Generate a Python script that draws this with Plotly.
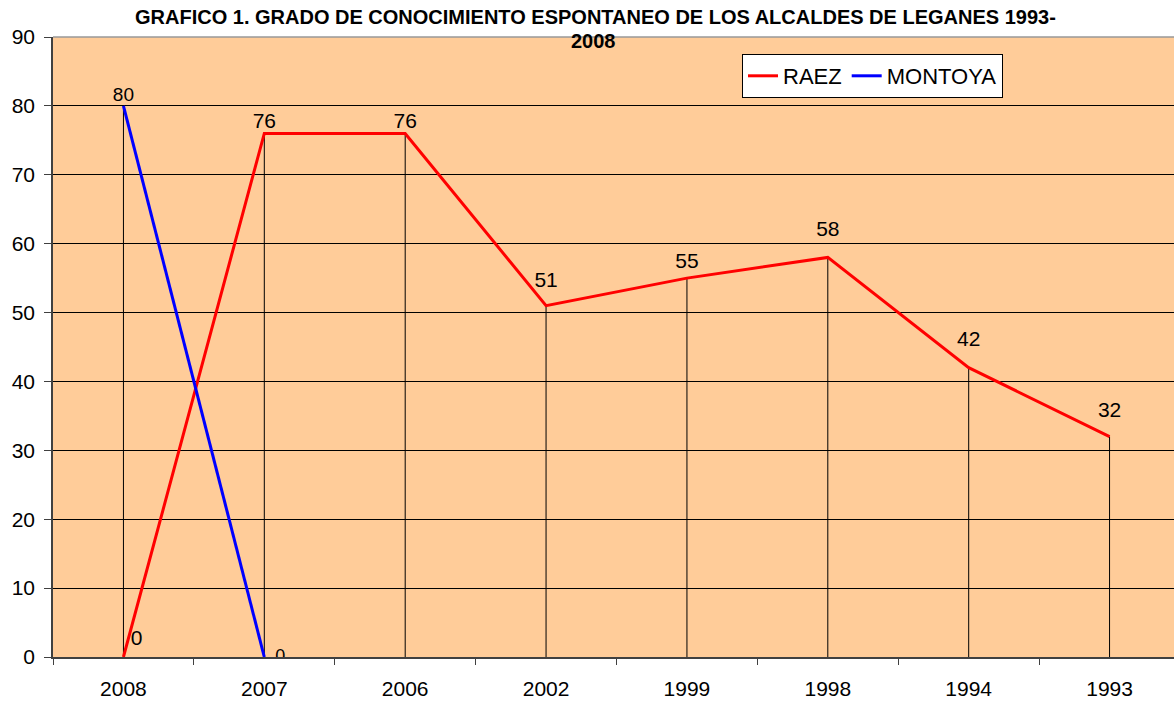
import plotly.graph_objects as go

years = ["2008", "2007", "2006", "2002", "1999", "1998", "1994", "1993"]
raez = [0, 76, 76, 51, 55, 58, 42, 32]
montoya_years = ["2008", "2007"]
montoya = [80, 0]
y_ticks = [0, 10, 20, 30, 40, 50, 60, 70, 80, 90]

FONT = "Arial, Liberation Sans, sans-serif"

# drop lines from the highest series value at each category down to 0
mont_map = dict(zip(montoya_years, montoya))
drop_x, drop_y = [], []
for yr, v in zip(years, raez):
    top = max(v, mont_map.get(yr, 0))
    drop_x += [yr, yr, None]
    drop_y += [0, top, None]

# label placement styling (invisible marker sizes push the labels away)
raez_label_pad = [10, 0, 0, 20, 6, 24, 24, 22]
raez_pos = ["top right"] + ["top center"] * (len(raez) - 1)
montoya_label_pad = [0, 16]
montoya_pos = ["top center", "middle right"]

PLOT_L, PLOT_T, PLOT_W, PLOT_H = 53, 37, 1127, 620


def px_x(x):
    return (x - PLOT_L) / PLOT_W


def px_y(y):
    return 1 - (y - PLOT_T) / PLOT_H


fig = go.Figure()
fig.add_trace(go.Scatter(x=drop_x, y=drop_y, mode="lines",
                         line=dict(color="black", width=1),
                         showlegend=False, hoverinfo="skip"))

fig.add_trace(go.Scatter(x=years, y=raez, name="RAEZ", mode="lines+markers+text",
                         line=dict(color="#FF0000", width=3),
                         marker=dict(size=raez_label_pad, color="rgba(0,0,0,0)",
                                     line=dict(width=0)),
                         text=[str(v) for v in raez], textposition=raez_pos,
                         textfont=dict(size=21, color="black", family=FONT)))
fig.add_trace(go.Scatter(x=montoya_years, y=montoya, name="MONTOYA", mode="lines+markers+text",
                         line=dict(color="#0000FF", width=3),
                         marker=dict(size=montoya_label_pad, color="rgba(0,0,0,0)",
                                     line=dict(width=0)),
                         text=[str(v) for v in montoya], textposition=montoya_pos,
                         textfont=dict(size=[19, 18], color="black", family=FONT)))

fig.update_layout(
    width=1180, height=702,
    margin=dict(l=PLOT_L, r=0, t=PLOT_T, b=45),
    paper_bgcolor="white", plot_bgcolor="#FFCC99",
    font=dict(family=FONT, color="black", size=21),
    legend=dict(orientation="h", x=px_x(742), y=px_y(54),
                xanchor="left", yanchor="top",
                bgcolor="white", bordercolor="black", borderwidth=1,
                font=dict(size=22), itemwidth=30, tracegroupgap=0),
    annotations=[
        dict(text="<b>GRAFICO 1. GRADO DE CONOCIMIENTO ESPONTANEO DE LOS ALCALDES DE LEGANES 1993-</b>",
             xref="paper", yref="paper", x=px_x(595.5), y=px_y(17),
             xanchor="center", yanchor="middle", showarrow=False,
             font=dict(size=20, family=FONT)),
        dict(text="<b>2008</b>", xref="paper", yref="paper",
             x=px_x(593.5), y=px_y(41),
             xanchor="center", yanchor="middle", showarrow=False,
             font=dict(size=20, family=FONT)),
    ],
    shapes=[dict(type="line", xref="paper", yref="paper", x0=0, x1=1, y0=1, y1=1,
                 line=dict(color="#999999", width=1.5))],
)
fig.update_xaxes(type="category", categoryorder="array", categoryarray=years,
                 tickson="boundaries", ticks="outside", ticklen=6, tickcolor="#404040",
                 showgrid=False, showline=True, linecolor="#404040", linewidth=1.5,
                 tickfont=dict(size=21), ticklabelstandoff=12, range=[-0.5, 7.5])
fig.update_yaxes(range=[0, 90], tickvals=y_ticks, ticks="outside", ticklen=7,
                 tickcolor="#404040", showline=True, linecolor="#404040", linewidth=1.5,
                 showgrid=True, gridcolor="black", gridwidth=1, zeroline=False,
                 tickfont=dict(size=21), ticklabelstandoff=5)

fig.write_html("out.html", config={"displayModeBar": False},
               post_script="document.body.style.margin='0';document.body.style.overflow='hidden';")
